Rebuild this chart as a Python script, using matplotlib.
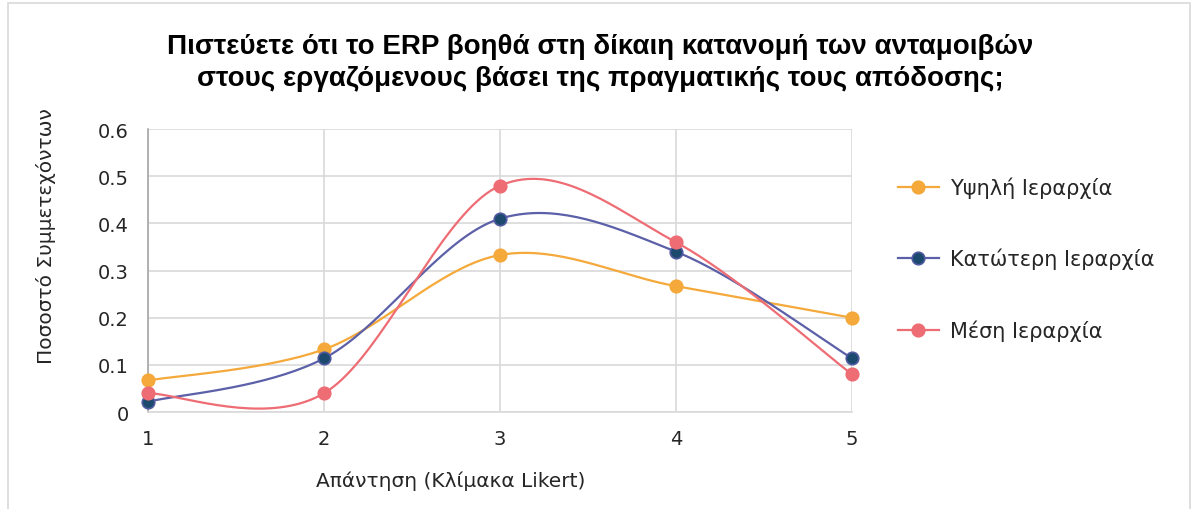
import numpy as np
import matplotlib
matplotlib.use("Agg")
import matplotlib.pyplot as plt
from matplotlib.lines import Line2D
from matplotlib.patches import Rectangle
from matplotlib import font_manager

# ---- data ----
x_vals = [1, 2, 3, 4, 5]
high = [0.067, 0.133, 0.333, 0.267, 0.200]
lower = [0.022, 0.114, 0.410, 0.340, 0.114]
middle = [0.040, 0.040, 0.480, 0.360, 0.080]
series_names = ["Υψηλή Ιεραρχία", "Κατώτερη Ιεραρχία", "Μέση Ιεραρχία"]
y_ticks = [0, 0.1, 0.2, 0.3, 0.4, 0.5, 0.6]
y_tick_labels = ["0", "0.1", "0.2", "0.3", "0.4", "0.5", "0.6"]
title = "Πιστεύετε ότι το ERP βοηθά στη δίκαιη κατανομή των ανταμοιβών\nστους εργαζόμενους βάσει της πραγματικής τους απόδοσης;"
xlabel = "Απάντηση (Κλίμακα Likert)"
ylabel = "Ποσοστό Συμμετεχόντων"

names = {f.name for f in font_manager.fontManager.ttflist}
title_font = "Liberation Sans" if "Liberation Sans" in names else "DejaVu Sans"
plt.rcParams["font.family"] = ["DejaVu Sans"]

fig = plt.figure(figsize=(11.94, 5.10), dpi=100)
ax = fig.add_axes([0.124, 0.19, 0.5896, 0.555])

# frame around chart area
fig.patches.append(Rectangle((0.007, -0.01), 0.99, 1.003, transform=fig.transFigure,
                             fill=False, edgecolor="#d9d9d9", linewidth=1.2))

def smooth(xs, ys, sx=176.0, sy=471.7, n=40):
    """Excel-like smoothed line via Catmull-Rom Bezier in pixel-scaled space."""
    P = np.column_stack([np.array(xs) * sx, np.array(ys) * sy])
    out = []
    m = len(P)
    for i in range(m - 1):
        p0 = P[i - 1] if i > 0 else P[i]
        p1 = P[i]
        p2 = P[i + 1]
        p3 = P[i + 2] if i + 2 < m else P[i + 1]
        c1 = p1 + (p2 - p0) / 6.0
        c2 = p2 - (p3 - p1) / 6.0
        t = np.linspace(0, 1, n)[:, None]
        seg = ((1 - t) ** 3) * p1 + 3 * ((1 - t) ** 2) * t * c1 + 3 * (1 - t) * t ** 2 * c2 + t ** 3 * p2
        out.append(seg if i == 0 else seg[1:])
    out = np.vstack(out)
    return out[:, 0] / sx, out[:, 1] / sy

styles = [
    dict(color="#F4A93A", mfc="#F4A93A", mec="#F4A93A"),
    dict(color="#5B60A8", mfc="#1C4A6E", mec="#4F5AA0"),
    dict(color="#EE6C74", mfc="#EE6C74", mec="#EE6C74"),
]
data = [high, lower, middle]
handles = []
for ys, st, nm in zip(data, styles, series_names):
    sxs, sys_ = smooth(x_vals, ys)
    ax.plot(sxs, sys_, color=st["color"], lw=1.6, zorder=3, clip_on=False)
    ax.plot(x_vals, ys, ls="none", marker="o", ms=9, mfc=st["mfc"], mec=st["mec"],
            mew=1.2, zorder=4, clip_on=False)
    handles.append(Line2D([0], [0], color=st["color"], lw=1.6, marker="o", ms=9,
                          mfc=st["mfc"], mec=st["mec"], mew=1.2))

ax.set_xlim(1, 5)
ax.set_ylim(0, 0.6)
ax.set_xticks(x_vals)
ax.set_xticklabels([str(v) for v in x_vals])
ax.set_yticks(y_ticks)
ax.set_yticklabels(y_tick_labels)
ax.grid(True, color="#d9d9d9", lw=1.2)
ax.set_axisbelow(True)
ax.tick_params(length=0, labelsize=14, colors="#262626", pad=14)
ax.tick_params(axis="x", pad=12)
for s in ["top", "right"]:
    ax.spines[s].set_visible(False)
ax.spines["left"].set_color("#a6a6a6")
ax.spines["bottom"].set_color("#d9d9d9")
ax.spines["left"].set_linewidth(1.2)
ax.spines["bottom"].set_linewidth(1.2)

ax.set_xlabel(xlabel, fontsize=14.5, color="#262626")
ax.xaxis.set_label_coords(0.43, -0.206)
ax.set_ylabel(ylabel, fontsize=14.5, color="#262626")
ax.yaxis.set_label_coords(-0.131, 0.625)

fig.text(0.503, 0.877, title, ha="center", va="center", fontsize=20, fontweight="bold",
         family=[title_font, "DejaVu Sans"], color="#000000", linespacing=1.3)

leg = fig.legend(handles, series_names, loc="upper left", bbox_to_anchor=(0.736, 0.689),
                 frameon=False, fontsize=15, labelspacing=2.4, handlelength=2.0,
                 handletextpad=0.5)
for t in leg.get_texts():
    t.set_color("#262626")

fig.savefig("out.png", dpi=100)
